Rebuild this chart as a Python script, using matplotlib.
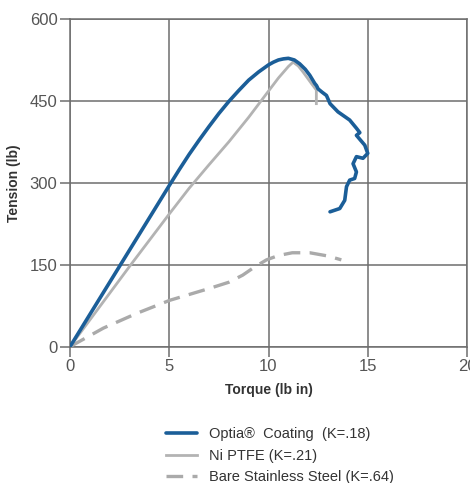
import matplotlib
matplotlib.use("Agg")
import matplotlib.pyplot as plt

plt.rcParams['font.family'] = ['Liberation Sans', 'DejaVu Sans']

# Optia coating
optia_x = [0, 1, 2, 3, 4, 5, 5.5, 6, 6.5, 7, 7.5, 8, 8.5, 9, 9.5, 10, 10.25, 10.5, 10.75, 11.0, 11.3, 11.57, 11.85,
           12.08, 12.33, 12.42, 12.5, 12.7, 12.92, 13.1, 13.5,
           14.09, 14.43, 14.6, 14.43, 14.85, 15.0, 14.76, 14.43, 14.26, 14.43, 14.34, 14.09, 13.93, 13.84, 13.59, 13.1]
optia_y = [0, 59, 118, 177, 236, 295, 324, 352, 378, 403, 427, 449, 469, 488, 503, 516, 521, 525, 527, 528, 525, 518, 508,
           497, 482, 478, 472, 466, 460, 445, 430,
           415, 400, 392, 387, 369, 354, 345, 348, 335, 320, 308, 305, 293, 268, 253, 247]

# Ni PTFE
ptfe_x = [0, 1, 2, 3, 4, 5, 6, 7, 8, 9, 10, 10.5, 11.0, 11.24, 11.5, 11.74, 12.16, 12.41, 12.41]
ptfe_y = [0, 49, 98, 147, 195, 243, 290, 333, 375, 420, 468, 492, 513, 521, 514, 503, 482, 470, 445]

# Bare stainless steel
bare_x = [0, 1.68, 3.36, 5.03, 7.05, 8.0, 8.7, 9.3, 9.9, 10.5, 11.2, 12.08, 13.0, 13.67]
bare_y = [0, 34, 61, 85, 107, 118, 131, 146, 159, 167, 172, 172, 166, 159]

labels = ['Optia\u00ae  Coating  (K=.18)', 'Ni PTFE (K=.21)', 'Bare Stainless Steel (K=.64)']

xticks = [0, 5, 10, 15, 20]
yticks = [0, 150, 300, 450, 600]

fig = plt.figure(figsize=(4.70, 4.83), dpi=100)
ax = fig.add_axes([70/470, 1-346.7/483, (467-70)/470, (346.7-19)/483])

grid_c = '#6e6e6e'
ax.plot(optia_x, optia_y, color='#1b5e98', lw=2.6, label=labels[0],
        solid_capstyle='round', solid_joinstyle='round', zorder=4)
ax.plot(ptfe_x, ptfe_y, color='#b3b3b3', lw=2.0, label=labels[1], solid_joinstyle='round', zorder=3)
ax.plot(bare_x, bare_y, color='#aaaaaa', lw=2.4, dashes=(5, 2.8), label=labels[2], zorder=3)

ax.set_xlim(0, 20)
ax.set_ylim(0, 600)
ax.set_xticks(xticks)
ax.set_yticks(yticks)
ax.grid(True, color=grid_c, lw=1.1)
for s in ax.spines.values():
    s.set_color(grid_c)
    s.set_linewidth(1.1)
ax.tick_params(colors=grid_c, labelcolor='#555555', length=7, width=1.1, labelsize=12, pad=2)
ax.set_xlabel('Torque (lb in)', fontsize=10, fontweight='bold', color='#333333', labelpad=6)
ax.set_ylabel('Tension (lb)', fontsize=10, fontweight='bold', color='#333333', labelpad=6)

leg = fig.legend(loc='upper left', bbox_to_anchor=(162/470, 1-423/483), frameon=False,
                 fontsize=10.5, handlelength=2.1, labelspacing=0.5, handletextpad=0.8,
                 borderaxespad=0, borderpad=0.3, labelcolor='#333333')

fig.savefig('out.png', dpi=100)
